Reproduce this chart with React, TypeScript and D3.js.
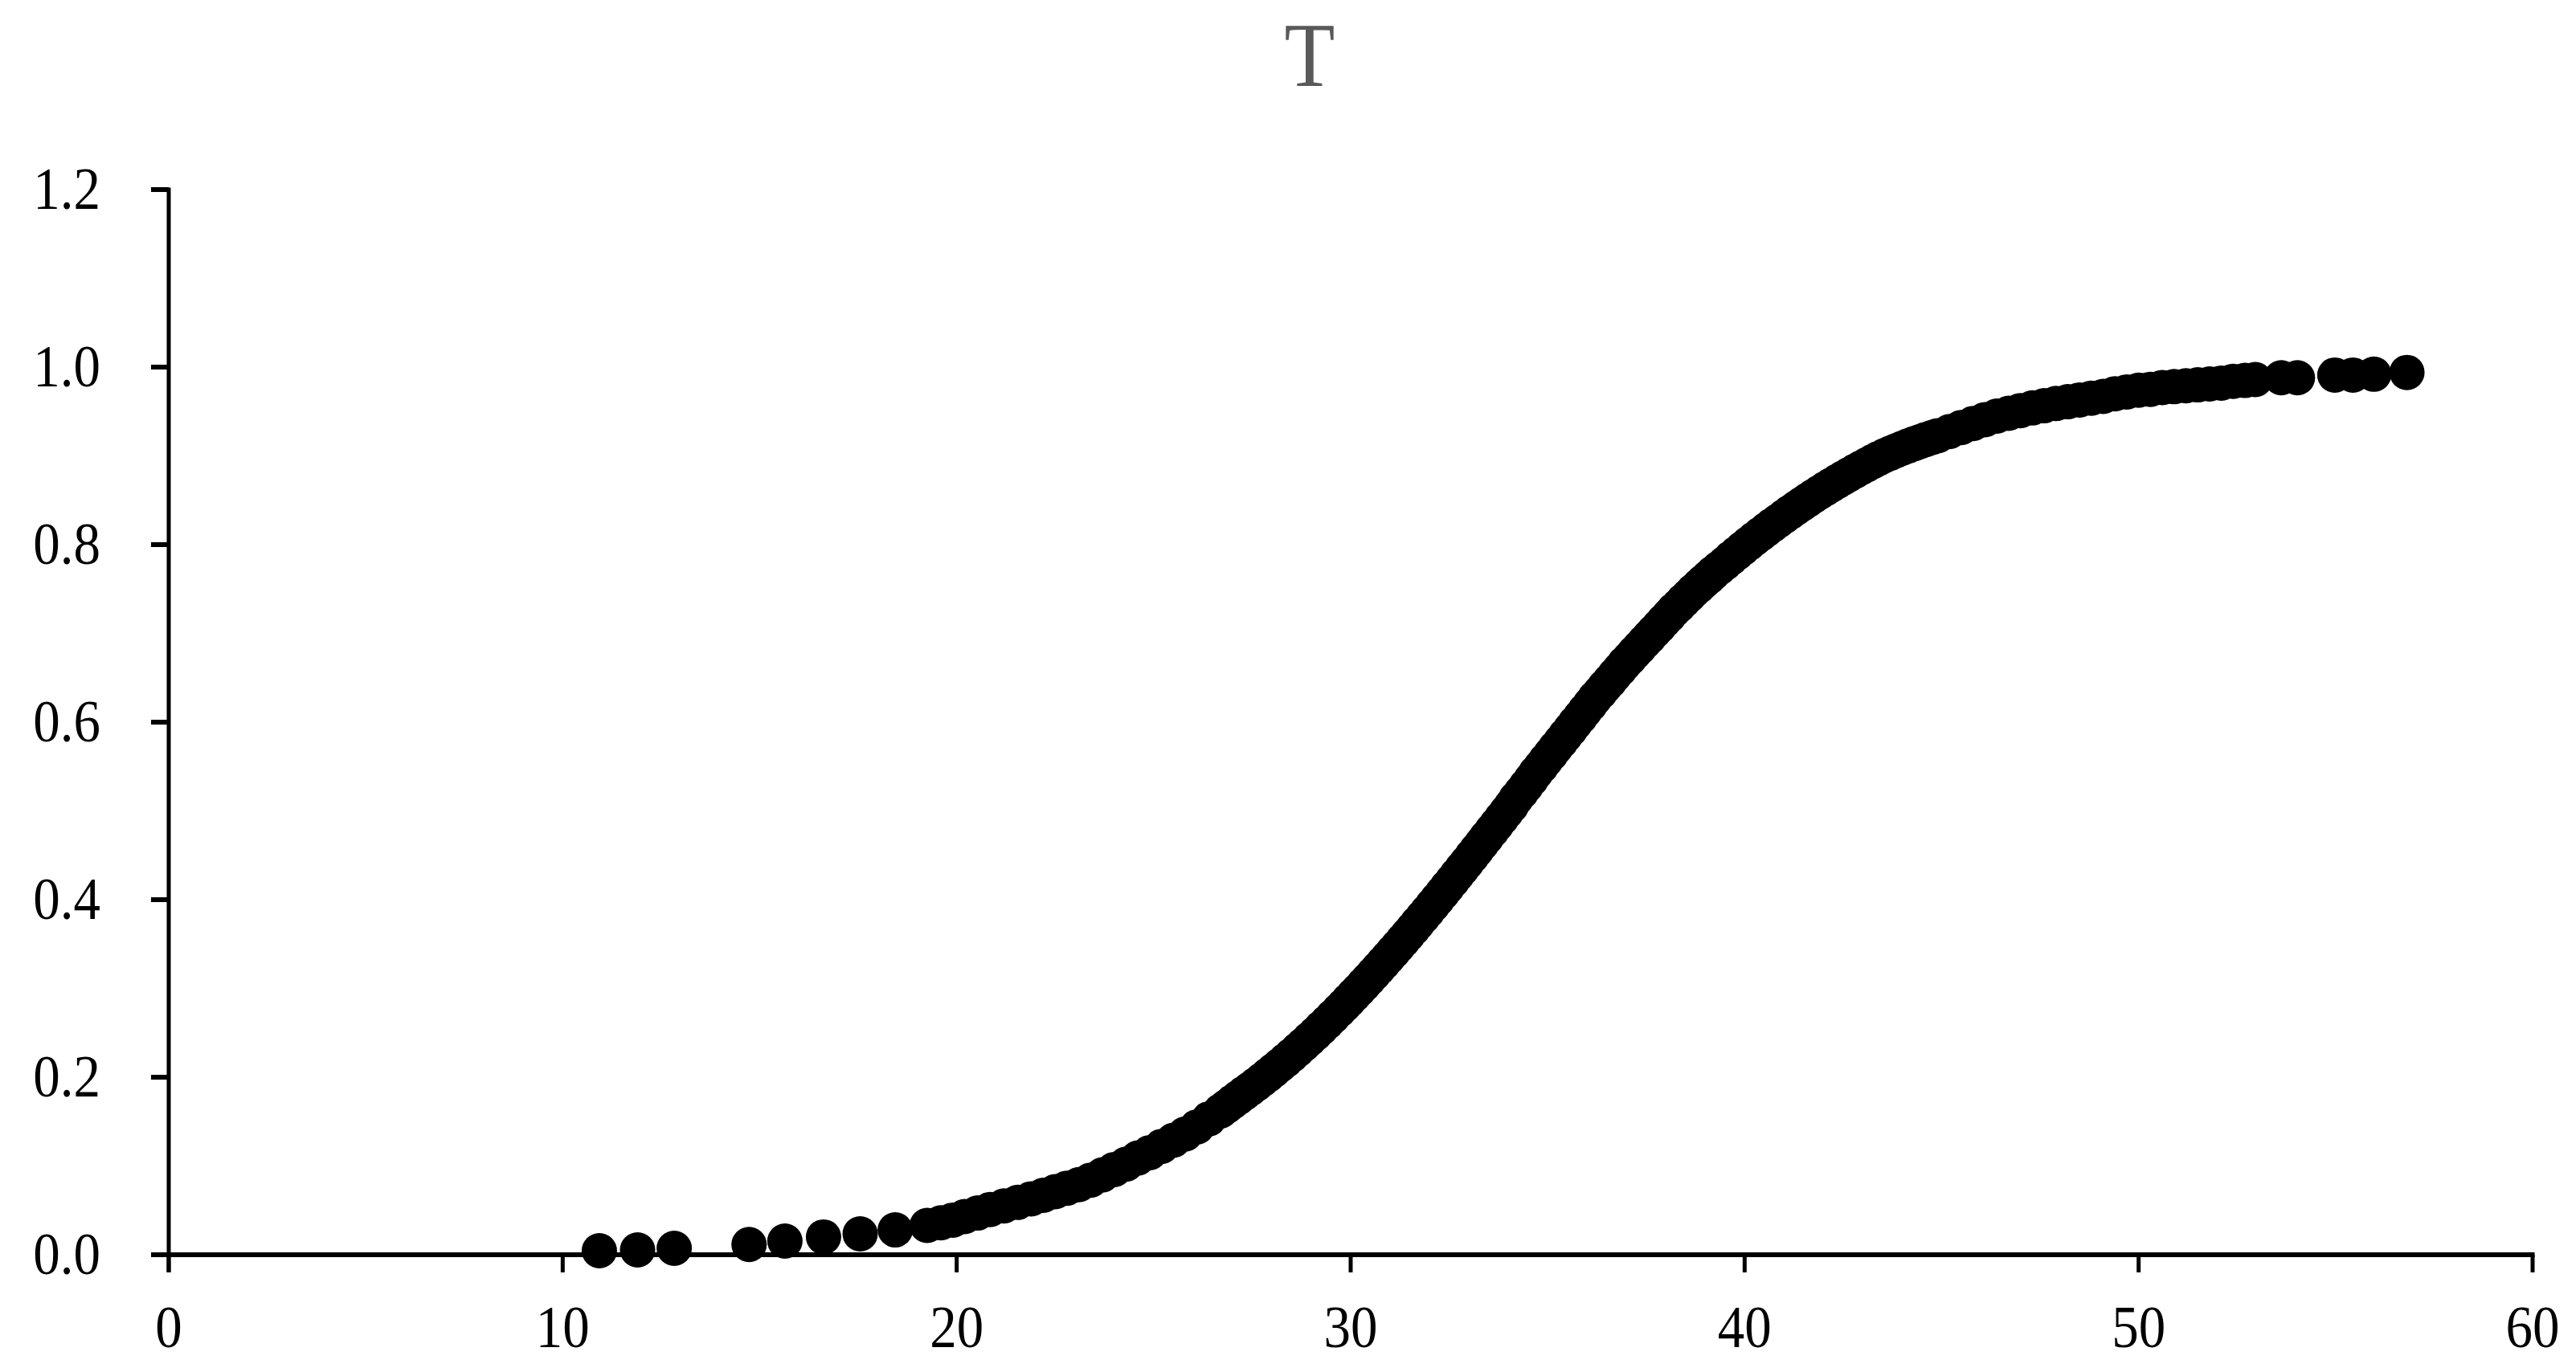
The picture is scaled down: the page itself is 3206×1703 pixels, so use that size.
import React from "react";
import * as d3 from "d3";

const title = "T";
const xTicks = [0, 10, 20, 30, 40, 50, 60];
const yTicks = [0, 0.2, 0.4, 0.6, 0.8, 1.0, 1.2];

const xValues = [
  10.93, 11.9, 12.83, 14.73, 15.64, 16.62, 17.55, 18.44,
  19.25, 19.6, 19.9, 20.2, 20.53, 20.85, 21.2, 21.55, 21.89, 22.2, 22.5, 22.8,
  23.1, 23.4, 23.7, 24.0, 24.3, 24.6, 24.9, 25.2, 25.5, 25.8, 26.1, 26.4,
  26.7, 26.85, 27.0, 27.15, 27.3, 27.45, 27.6, 27.75, 27.9, 28.05, 28.2, 28.35, 28.5, 28.65,
  28.8, 28.95, 29.1, 29.25, 29.4, 29.55, 29.7, 29.83, 29.95, 30.08, 30.2, 30.33,
  30.45, 30.58, 30.7, 30.83, 30.95, 31.08, 31.2, 31.33, 31.45, 31.58, 31.7, 31.83,
  31.95, 32.08, 32.2, 32.33, 32.45, 32.58, 32.7, 32.83, 32.95, 33.08, 33.2, 33.33,
  33.45, 33.58, 33.7, 33.83, 33.95, 34.08, 34.2, 34.33, 34.45, 34.58, 34.7, 34.83,
  34.95, 35.08, 35.2, 35.33, 35.45, 35.58, 35.7, 35.83, 35.95, 36.08, 36.2, 36.33,
  36.45, 36.58, 36.7, 36.83, 36.95, 37.08, 37.2, 37.33, 37.45, 37.58, 37.7, 37.83,
  37.95, 38.08, 38.2, 38.33, 38.45, 38.58, 38.7, 38.83, 38.95, 39.08, 39.2, 39.35,
  39.5, 39.65, 39.8, 39.95, 40.1, 40.25, 40.4, 40.55, 40.7, 40.85, 41.0, 41.15,
  41.3, 41.45, 41.6, 41.75, 41.9, 42.05, 42.2, 42.35, 42.5, 42.65, 42.8, 42.95,
  43.1, 43.25, 43.4, 43.55, 43.7, 43.85, 44.0, 44.15, 44.3, 44.45, 44.6, 44.75,
  44.9, 45.2, 45.5, 45.8, 46.1, 46.4, 46.7, 47.0, 47.3, 47.6, 47.9, 48.2, 48.5, 48.8,
  49.1, 49.4, 49.7, 50.0, 50.3, 50.6, 50.9, 51.2, 51.5, 51.8, 52.1, 52.4,
  52.7, 52.96,
  53.62, 54.03, 54.98, 55.44, 55.97, 56.81,
];

const yValues = [
  0.0045, 0.0054, 0.0072, 0.0115, 0.0154, 0.020, 0.0235, 0.028,
  0.033, 0.036, 0.039, 0.043, 0.047, 0.051, 0.055, 0.059, 0.063, 0.067, 0.071, 0.075,
  0.079, 0.084, 0.090, 0.096, 0.102, 0.109, 0.115, 0.122, 0.129, 0.136, 0.144, 0.153,
  0.162, 0.167, 0.172, 0.177, 0.182, 0.1869, 0.1919, 0.1971, 0.2024, 0.2078, 0.2133, 0.2189, 0.2247, 0.2306,
  0.2366, 0.2427, 0.2489, 0.2553, 0.2618, 0.2684, 0.2751, 0.281, 0.2865, 0.2926, 0.2982, 0.3044,
  0.3102, 0.3165, 0.3224, 0.3288, 0.3348, 0.3414, 0.3475, 0.3542, 0.3604, 0.3672, 0.3736, 0.3805,
  0.3869, 0.3939, 0.4004, 0.4075, 0.4141, 0.4213, 0.428, 0.4352, 0.4419, 0.4492, 0.456, 0.4634,
  0.4702, 0.4776, 0.4844, 0.4918, 0.4987, 0.506, 0.514, 0.521, 0.528, 0.5355, 0.543, 0.550,
  0.557, 0.564, 0.571, 0.578, 0.585, 0.592, 0.599, 0.606, 0.613, 0.620, 0.627, 0.6335,
  0.640, 0.6465, 0.653, 0.6595, 0.666, 0.672, 0.678, 0.684, 0.690, 0.696, 0.702, 0.708,
  0.714, 0.720, 0.726, 0.7315, 0.737, 0.7425, 0.748, 0.753, 0.758, 0.763, 0.768, 0.7735,
  0.779, 0.7847, 0.7903, 0.7958, 0.8012, 0.8065, 0.8117, 0.8168, 0.8218, 0.8267, 0.8315, 0.8363,
  0.841, 0.8456, 0.8501, 0.8545, 0.8588, 0.863, 0.8671, 0.8711, 0.875, 0.8789, 0.8827, 0.8864,
  0.89, 0.8935, 0.8969, 0.9002, 0.9031, 0.9059, 0.9086, 0.9112, 0.9137, 0.9161, 0.9184, 0.9206,
  0.9227, 0.9274, 0.932, 0.9365, 0.9408, 0.9448, 0.948, 0.951, 0.954, 0.9565, 0.959, 0.961, 0.963, 0.965,
  0.967, 0.970, 0.972, 0.974, 0.975, 0.977, 0.978, 0.979, 0.980, 0.981, 0.982, 0.984,
  0.985, 0.986,
  0.988, 0.988, 0.991, 0.991, 0.992, 0.994,
];

const W = 3206;
const H = 1703;
const FONT = "'Liberation Serif', 'Times New Roman', serif";

export default function App() {
  const x = d3.scaleLinear().domain([0, 60]).range([210, 3152]);
  const y = d3.scaleLinear().domain([0, 1.2]).range([1562, 236]);
  const points = xValues.map((v, i) => ({ x: v, y: yValues[i] }));
  const fmtY = d3.format(".1f");
  const tickLen = 22;

  return (
    <svg
      width={W}
      height={H}
      viewBox={`0 0 ${W} ${H}`}
      style={{ position: "absolute", left: 0, top: 0, background: "#fff" }}
    >
      <rect x={0} y={0} width={W} height={H} fill="#fff" />
      <text
        transform={`translate(1630,107) scale(1,1.12)`}
        textAnchor="middle"
        fontFamily={FONT}
        fontSize={103}
        fill="#595959"
      >
        {title}
      </text>

      <g>
        {points.map((p, i) => (
          <circle key={i} cx={x(p.x)} cy={y(p.y)} r={22} fill="#000" />
        ))}
      </g>

      <g>
        <line x1={x(0)} x2={x(0)} y1={y(1.2) - 2.5} y2={y(0) + tickLen} stroke="#000" strokeWidth={5} />
        {yTicks.map((t) => (
          <g key={t}>
            <line x1={x(0) - tickLen} x2={x(0)} y1={y(t)} y2={y(t)} stroke="#000" strokeWidth={6} />
            <text
              transform={`translate(125,${y(t) + 24}) scale(1,1.12)`}
              textAnchor="end"
              fontFamily={FONT}
              fontSize={67}
              fill="#000"
            >
              {fmtY(t)}
            </text>
          </g>
        ))}
      </g>

      <g>
        <line x1={x(0) - tickLen} x2={x(60) + 2.5} y1={y(0)} y2={y(0)} stroke="#000" strokeWidth={6} />
        {xTicks.map((t) => (
          <g key={t}>
            <line x1={x(t)} x2={x(t)} y1={y(0)} y2={y(0) + tickLen} stroke="#000" strokeWidth={5} />
            <text
              transform={`translate(${x(t)},1677) scale(1,1.12)`}
              textAnchor="middle"
              fontFamily={FONT}
              fontSize={67}
              fill="#000"
            >
              {t}
            </text>
          </g>
        ))}
      </g>
    </svg>
  );
}
